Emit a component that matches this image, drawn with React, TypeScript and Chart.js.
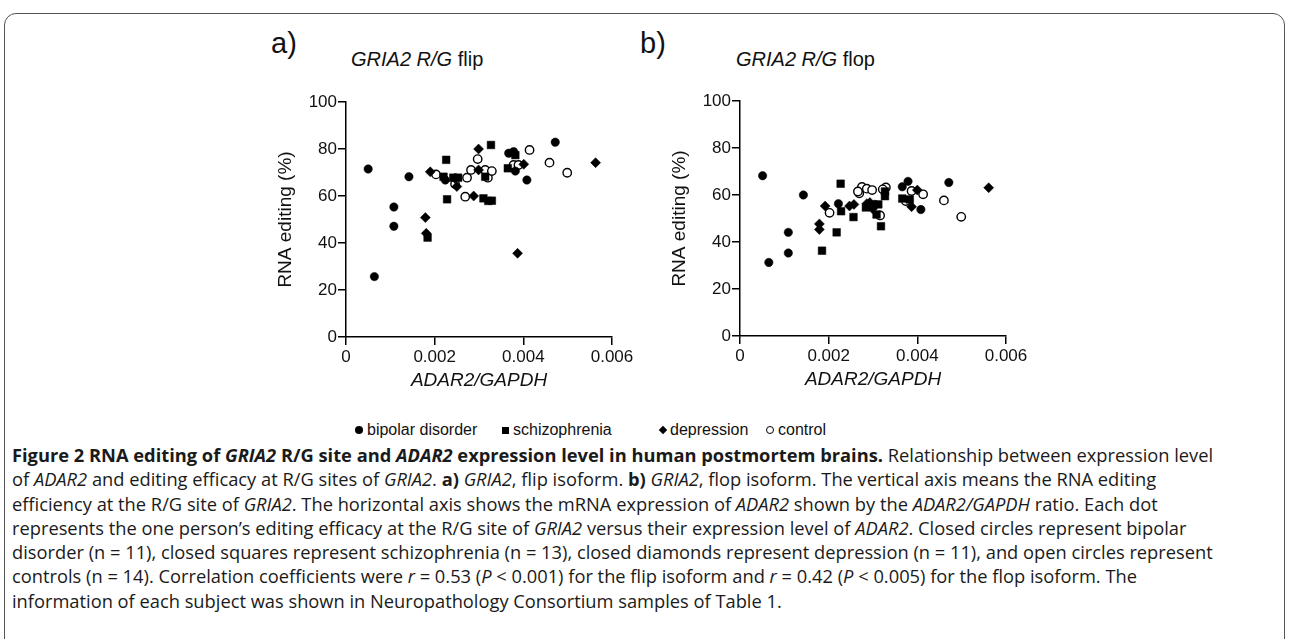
import React, { useEffect, useRef } from "react";
import { Chart, registerables } from "chart.js";

Chart.register(...registerables);

// ---------- data ----------
const SERIES_NAMES = ["bipolar disorder", "schizophrenia", "depression", "control"];

const X_TICKS = [0, 0.002, 0.004, 0.006];
const X_TICK_LABELS = ["0", "0.002", "0.004", "0.006"];
const Y_TICKS = [0, 20, 40, 60, 80, 100];
const Y_TICK_LABELS = ["0", "20", "40", "60", "80", "100"];

// panel a) GRIA2 R/G flip  — [ADAR2/GAPDH, RNA editing %]
const flipBipolar: [number, number][] = [
  [0.0005, 71.5], [0.00064, 25.7], [0.00108, 55.3], [0.00108, 47.1], [0.00142, 68.2],
  [0.00224, 66.8], [0.00367, 78.2], [0.00378, 78.9], [0.00382, 70.6], [0.00408, 66.8],
  [0.00472, 82.9],
];
const flipSchizo: [number, number][] = [
  [0.00226, 75.4], [0.00228, 58.6], [0.00184, 42.3], [0.0022, 68.2], [0.00242, 67.8],
  [0.00253, 67.8], [0.00327, 81.7], [0.0031, 59.0], [0.00321, 57.9], [0.00329, 58.0],
  [0.00314, 68.2], [0.00365, 71.8], [0.00382, 77.4],
];
const flipDepression: [number, number][] = [
  [0.0019, 70.3], [0.00179, 50.8], [0.00181, 44.1], [0.00299, 80.0], [0.00288, 60.0],
  [0.0025, 64.0], [0.00246, 67.5], [0.00299, 71.1], [0.00401, 73.5], [0.00387, 35.6],
  [0.00563, 74.2],
];
const flipControl: [number, number][] = [
  [0.00203, 69.2], [0.00246, 65.1], [0.00269, 59.7], [0.00273, 67.8], [0.00282, 71.1],
  [0.00297, 75.7], [0.00314, 71.1], [0.0032, 67.8], [0.00329, 70.6], [0.00378, 73.2],
  [0.00389, 73.2], [0.00414, 79.6], [0.00459, 74.2], [0.00499, 69.9],
];

// panel b) GRIA2 R/G flop
const flopBipolar: [number, number][] = [
  [0.00051, 68.2], [0.00065, 31.3], [0.00109, 44.1], [0.00109, 35.3], [0.00143, 60.0],
  [0.00222, 56.3], [0.00304, 56.0], [0.00366, 63.5], [0.00379, 65.8], [0.00408, 53.8],
  [0.00471, 65.3],
];
const flopSchizo: [number, number][] = [
  [0.00227, 64.8], [0.00218, 44.1], [0.00185, 36.3], [0.00228, 53.1], [0.00256, 50.6],
  [0.00318, 46.7], [0.00327, 59.5], [0.00327, 61.5], [0.00312, 56.0], [0.00308, 51.7],
  [0.00366, 58.5], [0.00383, 58.1], [0.00284, 54.7],
];
const flopDepression: [number, number][] = [
  [0.00192, 55.3], [0.00179, 47.7], [0.00179, 45.3], [0.00247, 55.3], [0.00286, 56.3],
  [0.00299, 54.1], [0.00293, 56.8], [0.00387, 55.0], [0.004, 62.1], [0.00561, 63.1],
  [0.00257, 56.0],
];
const flopControl: [number, number][] = [
  [0.00202, 52.4], [0.00269, 60.7], [0.00275, 63.4], [0.00286, 62.7], [0.00298, 62.1],
  [0.00329, 63.2], [0.00316, 51.3], [0.00387, 61.7], [0.00413, 60.3], [0.00374, 57.4],
  [0.0046, 57.7], [0.00499, 50.7], [0.00266, 61.5], [0.00322, 62.4],
];

// ---------- styles ----------
const FONT = "'Liberation Sans', Arial, Helvetica, sans-serif";
const MARKERS = [
  { pointStyle: "circle", radius: 4.2, fill: "#000", border: "#000", bw: 0.5 },
  { pointStyle: "rect", radius: 5.4, fill: "#000", border: "#000", bw: 0.5 },
  { pointStyle: "rectRot", radius: 5, fill: "#000", border: "#000", bw: 0.5 },
  { pointStyle: "circle", radius: 4.2, fill: "#fff", border: "#000", bw: 1.4 },
];

function toPts(arr: [number, number][]) {
  return arr.map(([x, y]) => ({ x, y }));
}

function Panel(props: { left: number; top: number; series: [number, number][][] }) {
  const ref = useRef<HTMLCanvasElement | null>(null);
  useEffect(() => {
    if (!ref.current) return;
    const chart = new Chart(ref.current, {
      type: "scatter",
      data: {
        datasets: props.series.map((s, i) => ({
          label: SERIES_NAMES[i],
          data: toPts(s),
          pointStyle: MARKERS[i].pointStyle as any,
          pointRadius: MARKERS[i].radius,
          pointBackgroundColor: MARKERS[i].fill,
          pointBorderColor: MARKERS[i].border,
          pointBorderWidth: MARKERS[i].bw,
        })),
      },
      options: {
        responsive: false,
        animation: false,
        events: [],
        layout: { padding: { left: 0, right: 38, top: 12, bottom: 0 } },
        plugins: { legend: { display: false }, tooltip: { enabled: false }, title: { display: false } },
        scales: {
          x: {
            type: "linear",
            min: 0,
            max: 0.006,
            afterBuildTicks: (scale: any) => {
              scale.ticks = X_TICKS.map((v) => ({ value: v }));
            },
            afterFit: (scale: any) => {
              scale.height = 55;
            },
            border: { display: true, color: "#000", width: 1.5 },
            grid: { display: true, drawOnChartArea: false, drawTicks: true, tickLength: 8, color: "#000", lineWidth: 1.5 },
            ticks: {
              color: "#111",
              padding: 2,
              maxRotation: 0,
              font: { family: FONT, size: 17 },
              callback: (v: any) => {
                const i = X_TICKS.findIndex((t) => Math.abs(t - Number(v)) < 1e-9);
                return i >= 0 ? X_TICK_LABELS[i] : "";
              },
            },
            title: {
              display: true,
              text: "ADAR2/GAPDH",
              color: "#111",
              padding: { top: 0, bottom: 0 },
              font: { family: FONT, size: 19, style: "italic" },
            },
          },
          y: {
            type: "linear",
            min: 0,
            max: 100,
            afterBuildTicks: (scale: any) => {
              scale.ticks = Y_TICKS.map((v) => ({ value: v }));
            },
            afterFit: (scale: any) => {
              scale.width = 72;
            },
            border: { display: true, color: "#000", width: 1.5 },
            grid: { display: true, drawOnChartArea: false, drawTicks: true, tickLength: 8, color: "#000", lineWidth: 1.5 },
            ticks: {
              color: "#111",
              padding: 1,
              font: { family: FONT, size: 17 },
              callback: (v: any) => {
                const i = Y_TICKS.indexOf(Number(v));
                return i >= 0 ? Y_TICK_LABELS[i] : "";
              },
            },
            title: {
              display: true,
              text: "RNA editing (%)",
              color: "#111",
              padding: { top: 0, bottom: 0 },
              font: { family: FONT, size: 19 },
            },
          },
        },
      },
    });
    return () => chart.destroy();
  }, []);
  return (
    <canvas
      ref={ref}
      width={376}
      height={302}
      style={{ position: "absolute", left: props.left, top: props.top, width: 376, height: 302 }}
    />
  );
}

function LegendMark({ kind }: { kind: number }) {
  const base: React.CSSProperties = { display: "inline-block", boxSizing: "border-box" };
  if (kind === 0) return <span style={{ ...base, width: 8, height: 8, borderRadius: "50%", background: "#000" }} />;
  if (kind === 1) return <span style={{ ...base, width: 7, height: 7, background: "#000" }} />;
  if (kind === 2)
    return <span style={{ ...base, width: 6, height: 6, background: "#000", transform: "rotate(45deg)" }} />;
  return <span style={{ ...base, width: 8, height: 8, borderRadius: "50%", border: "1.2px solid #000", background: "#fff" }} />;
}

const LEGEND_X = [355, 502, 660, 766];

const captionStyle: React.CSSProperties = {
  position: "absolute",
  left: 12,
  top: 443,
  fontFamily: "'Open Sans', 'Noto Sans', sans-serif",
  fontSize: 18.3,
  lineHeight: "24.3px",
  color: "#1a1a1a",
  whiteSpace: "nowrap",
};

export default function App() {
  return (
    <div
      style={{
        position: "fixed",
        left: 0,
        top: 0,
        width: 1290,
        height: 639,
        overflow: "hidden",
        background: "#fff",
      }}
    >
      <div
        style={{
          position: "absolute",
          left: 4,
          top: 13,
          width: 1281,
          height: 720,
          border: "1px solid #555",
          borderRadius: 12,
          boxSizing: "border-box",
        }}
      />
      {/* panel labels and titles */}
      <div style={{ position: "absolute", left: 271, top: 27, fontFamily: FONT, fontSize: 29, color: "#111", lineHeight: "32px" }}>
        a)
      </div>
      <div style={{ position: "absolute", left: 351, top: 48, fontFamily: FONT, fontSize: 20, color: "#111", lineHeight: "22px" }}>
        <i>GRIA2 R/G</i> flip
      </div>
      <div style={{ position: "absolute", left: 640, top: 27, fontFamily: FONT, fontSize: 29, color: "#111", lineHeight: "32px" }}>
        b)
      </div>
      <div style={{ position: "absolute", left: 736, top: 48, fontFamily: FONT, fontSize: 20, color: "#111", lineHeight: "22px" }}>
        <i>GRIA2 R/G</i> flop
      </div>

      <Panel left={274} top={90} series={[flipBipolar, flipSchizo, flipDepression, flipControl]} />
      <Panel left={668} top={89} series={[flopBipolar, flopSchizo, flopDepression, flopControl]} />

      {/* shared legend */}
      {SERIES_NAMES.map((name, i) => (
        <div
          key={name}
          style={{
            position: "absolute",
            left: LEGEND_X[i],
            top: 420,
            height: 20,
            display: "flex",
            alignItems: "center",
            gap: 4,
            fontFamily: FONT,
            fontSize: 16,
            color: "#111",
          }}
        >
          <LegendMark kind={i} />
          <span>{name}</span>
        </div>
      ))}

      {/* caption */}
      <div style={captionStyle}>
        <div>
          <b>
            Figure 2 RNA editing of <i>GRIA2</i> R/G site and <i>ADAR2</i> expression level in human postmortem brains.
          </b>{" "}
          Relationship between expression level
        </div>
        <div>
          of <i>ADAR2</i> and editing efficacy at R/G sites of <i>GRIA2</i>. <b>a)</b> <i>GRIA2</i>, flip isoform. <b>b)</b>{" "}
          <i>GRIA2</i>, flop isoform. The vertical axis means the RNA editing
        </div>
        <div>
          efficiency at the R/G site of <i>GRIA2</i>. The horizontal axis shows the mRNA expression of <i>ADAR2</i> shown by the{" "}
          <i>ADAR2/GAPDH</i> ratio. Each dot
        </div>
        <div>
          represents the one person’s editing efficacy at the R/G site of <i>GRIA2</i> versus their expression level of{" "}
          <i>ADAR2</i>. Closed circles represent bipolar
        </div>
        <div>
          disorder (n = 11), closed squares represent schizophrenia (n = 13), closed diamonds represent depression (n = 11), and
          open circles represent
        </div>
        <div>
          controls (n = 14). Correlation coefficients were <i>r</i> = 0.53 (<i>P</i> &lt; 0.001) for the flip isoform and{" "}
          <i>r</i> = 0.42 (<i>P</i> &lt; 0.005) for the flop isoform. The
        </div>
        <div>information of each subject was shown in Neuropathology Consortium samples of Table 1.</div>
      </div>
    </div>
  );
}
